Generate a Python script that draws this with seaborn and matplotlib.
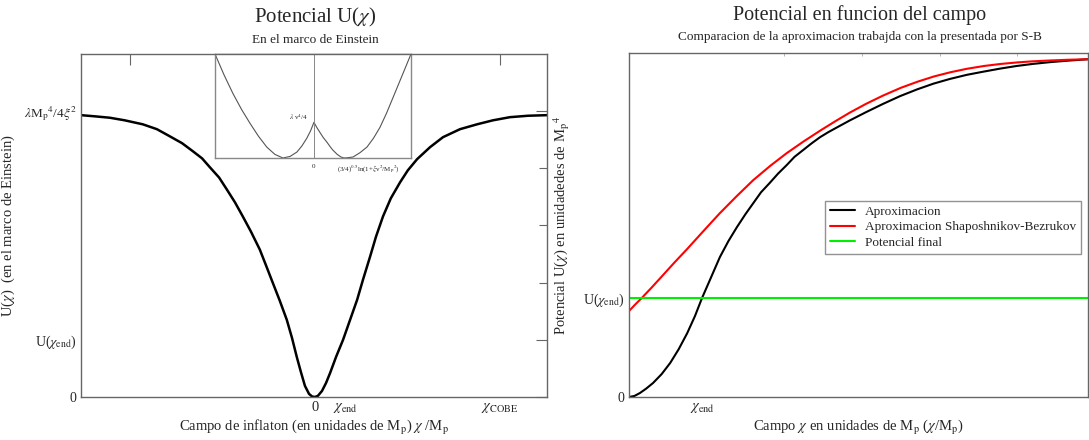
import matplotlib
matplotlib.use("Agg")
import matplotlib.pyplot as plt
import seaborn as sns
import pandas as pd

# ---------------- data ----------------
# Left panel: Einstein-frame potential, x in field units, y in units of lambda Mp^4/4xi^2
left_x = [-6.32, -5.95, -5.54, -5.14, -4.65, -4.27, -3.92, -3.59, -3.30, -3.05,
          -2.84, -2.59, -2.38, -2.16, -1.95, -1.73, -1.49, -1.32, -1.14, -0.95,
          -0.76, -0.62, -0.49, -0.38, -0.27, -0.16, -0.08, 0.0,
          0.08, 0.19, 0.30, 0.41, 0.57, 0.76, 0.95, 1.14, 1.30, 1.49, 1.65, 1.84,
          2.05, 2.30, 2.51, 2.76, 3.11, 3.46, 3.92, 4.38, 4.81, 5.27, 5.76, 6.27]
left_y = [0.986, 0.982, 0.977, 0.968, 0.954, 0.937, 0.912, 0.888, 0.860, 0.835,
          0.804, 0.768, 0.726, 0.681, 0.632, 0.579, 0.516, 0.460, 0.400, 0.337,
          0.270, 0.207, 0.140, 0.088, 0.039, 0.011, 0.002, 0.0,
          0.004, 0.021, 0.049, 0.084, 0.140, 0.200, 0.270, 0.340, 0.411, 0.491, 0.561, 0.632,
          0.695, 0.751, 0.793, 0.832, 0.874, 0.909, 0.937, 0.954, 0.968, 0.979, 0.984, 0.986]

# Inset: potential near the origin
inset_x = [-3.19, -2.9, -2.61, -2.33, -2.06, -1.79, -1.52, -1.26, -1.0, -0.77,
           -0.55, -0.39, -0.23, -0.11, 0.0, 0.1, 0.19, 0.3, 0.42, 0.52, 0.61,
           0.75, 0.87, 0.97, 1.1, 1.26, 1.48, 1.71, 1.92, 2.13, 2.34, 2.55, 2.84, 3.13]
inset_y = [1.0, 0.8, 0.619, 0.465, 0.333, 0.21, 0.105, 0.035, 0.0, 0.015,
           0.057, 0.115, 0.19, 0.26, 0.343, 0.29, 0.248, 0.197, 0.152, 0.11, 0.076,
           0.035, 0.01, 0.0, 0.003, 0.0095, 0.05, 0.105, 0.19, 0.295, 0.43, 0.581, 0.79, 1.0]

# Right panel
black_x = [0.0, 0.07, 0.14, 0.22, 0.31, 0.42, 0.53, 0.64, 0.75, 0.85, 0.94, 1.05,
           1.17, 1.28, 1.39, 1.50, 1.60, 1.70, 1.81, 1.92, 2.03, 2.13, 2.24, 2.35,
           2.46, 2.57, 2.68, 2.84, 3.05, 3.27, 3.49, 3.71, 3.92, 4.13, 4.35,
           4.56, 4.78, 4.99, 5.20, 5.42, 5.66, 5.91]
black_y = [0.0, 0.01, 0.038, 0.08, 0.135, 0.22, 0.327, 0.46, 0.615, 0.78, 0.952, 1.14,
           1.346, 1.50, 1.635, 1.76, 1.865, 1.97, 2.058, 2.15, 2.231, 2.31, 2.375, 2.44,
           2.500, 2.55, 2.595, 2.66, 2.74, 2.82, 2.895, 2.96, 3.015, 3.06, 3.10,
           3.13, 3.16, 3.185, 3.205, 3.222, 3.237, 3.250]
red_x = [0.0, 0.08, 0.167, 0.29, 0.41, 0.58, 0.75, 0.96, 1.17, 1.39, 1.60, 1.82,
         2.03, 2.25, 2.47, 2.66, 2.84, 3.05, 3.27, 3.50, 3.72, 3.93, 4.14, 4.35,
         4.57, 4.79, 5.01, 5.20, 5.42, 5.66, 5.91]
red_y = [0.827, 0.89, 0.955, 1.052, 1.15, 1.29, 1.425, 1.598, 1.769, 1.935, 2.087, 2.225,
         2.346, 2.46, 2.567, 2.655, 2.735, 2.82, 2.90, 2.975, 3.035, 3.085, 3.125, 3.158,
         3.185, 3.205, 3.22, 3.23, 3.238, 3.245, 3.250]
green_x = [0.0, 5.91]
green_y = [0.952, 0.952]

legend_labels = ["Aproximacion", "Aproximacion Shaposhnikov-Bezrukov", "Potencial final"]

# tick values
left_u_end = 0.2
left_x_end = 0.83
left_x_cobe = 5.0
right_x_end = 0.94
right_u_end = 0.952

# ---------------- style ----------------
sns.set_style("white")
plt.rcParams["font.family"] = ["Liberation Serif", "DejaVu Serif"]
plt.rcParams["mathtext.fontset"] = "stix"
plt.rcParams["axes.linewidth"] = 1.0
SPINE = "#666666"

W, H = 1089, 440
fig = plt.figure(figsize=(W / 100, H / 100), dpi=100)


def px_axes(x0, y0, x1, y1):
    return fig.add_axes([x0 / W, 1 - y1 / H, (x1 - x0) / W, (y1 - y0) / H])


# ---------------- left panel ----------------
axL = px_axes(81, 54, 547, 397)
sns.lineplot(x=left_x, y=left_y, ax=axL, color="black", lw=1.8, sort=False)
axL.set_xlim(-6.32, 6.27)
axL.set_ylim(0, 1.2)
axL.set_xticks([-left_x_cobe, -left_x_end, 0, left_x_end, left_x_cobe])
axL.set_xticklabels(["", "", "0", r"$\chi_{\rm end}$", r"$\chi_{\rm COBE}$"], fontsize=10.5)
axL.set_yticks([0, left_u_end, 1.0])
axL.set_yticklabels(["0", r"U($\chi_{\rm end}$)", r"$\lambda$M$_{\rm p}{}^4$/4$\xi^2$"], fontsize=10)
axL.get_yticklabels()[2].set_fontsize(9.5)
axL.set_yticks([0.4, 0.6, 0.8], minor=True)
axL.tick_params(axis="both", which="major", direction="in", length=8, width=0.8,
                color=SPINE, top=True, right=True, pad=3)
axL.tick_params(axis="y", which="minor", direction="in", length=6, width=0.8,
                color=SPINE, left=False, right=True)
axL.set_xlabel(r"Campo de inflaton (en unidades de M$_{\rm p}$) $\chi$ /M$_{\rm p}$",
               fontsize=10.5, labelpad=2)
axL.set_ylabel(r"U($\chi$)  (en el marco de Einstein)", fontsize=10.5)
axL.yaxis.set_label_coords((17 - 81) / 466, 0.5)
for s in axL.spines.values():
    s.set_color(SPINE)
fig.text(315 / W, 1 - 17 / H, r"Potencial U($\chi$)", ha="center", va="center", fontsize=15)
fig.text(315 / W, 1 - 40 / H, "En el marco de Einstein", ha="center", va="center", fontsize=9.5)

# inset
axI = px_axes(215, 54, 411, 158)
sns.lineplot(x=inset_x, y=inset_y, ax=axI, color="#555555", lw=0.8, sort=False)
axI.axvline(0, color="#888888", lw=0.7)
axI.set_xlim(-3.19, 3.13)
axI.set_ylim(0, 1.0)
axI.set_yticks([])
axI.set_xticks([-1, 1])
axI.set_xticklabels([])
axI.set_xticks([-3, -2, 2, 3], minor=True)
axI.tick_params(axis="x", which="major", direction="in", length=5, width=0.6, color="#666666")
axI.tick_params(axis="x", which="minor", direction="in", length=2.5, width=0.6, color="#888888")
for k, s in axI.spines.items():
    s.set_color("#888888")
    s.set_linewidth(1.0)
axI.spines["top"].set_color(SPINE)
axI.text(0, -0.06, "0", ha="center", va="top", fontsize=5)
axI.text(0.75, -0.05, r"(3/4)$^{0.5}$ln(1+$\xi$v$^2$/M$_{\rm p}{}^2$)", ha="left", va="top", fontsize=5)
axI.text(-0.2, 0.39, r"$\lambda$ v$^4$/4", ha="right", va="center", fontsize=5)

# ---------------- right panel ----------------
axR = px_axes(629, 53, 1088, 397)
df = pd.DataFrame({
    "x": black_x + red_x + green_x,
    "y": black_y + red_y + green_y,
    "serie": [legend_labels[0]] * len(black_x) + [legend_labels[1]] * len(red_x)
             + [legend_labels[2]] * len(green_x),
})
sns.lineplot(data=df, x="x", y="y", hue="serie", hue_order=legend_labels,
             palette=["black", "#ff0000", "#00ee00"], ax=axR, lw=1.5, sort=False)
axR.set_xlim(0, 5.91)
axR.set_ylim(0, 3.31)
axR.set_xticks([right_x_end])
axR.set_xticklabels([r"$\chi_{\rm end}$"], fontsize=10.5)
axR.set_xticks([2, 3, 4, 5], minor=True)
axR.set_yticks([0, right_u_end])
axR.set_yticklabels(["0", r"U($\chi_{\rm end}$)"], fontsize=10)
axR.set_yticks([2, 3], minor=True)
axR.tick_params(axis="both", which="major", direction="in", length=10, width=0.8,
                color=SPINE, top=False, right=False, pad=3)
axR.tick_params(axis="both", which="minor", direction="in", length=2, width=0.6,
                color="#aaaaaa", top=True, right=False)
axR.set_xlabel(r"Campo $\chi$ en unidades de M$_{\rm p}$ ($\chi$/M$_{\rm p}$)", fontsize=10.5, labelpad=2)
axR.set_ylabel(r"Potencial U($\chi$) en unidadedes de M$_{\rm p}{}^4$", fontsize=10.5)
axR.yaxis.set_label_coords((572 - 629) / 459, 0.5)
for s in axR.spines.values():
    s.set_color(SPINE)
leg = axR.legend(loc="upper left", bbox_to_anchor=(825 / W, 1 - 201 / H),
                 bbox_transform=fig.transFigure, frameon=True, fancybox=False,
                 fontsize=9.5, handlelength=1.9, handletextpad=0.8, borderpad=0.35,
                 labelspacing=0.25, borderaxespad=0)
leg.get_frame().set_edgecolor("#777777")
leg.get_frame().set_linewidth(1.0)
leg.set_title(None)
fig.text(860 / W, 1 - 15 / H, "Potencial en funcion del campo", ha="center", va="center", fontsize=14.5)
fig.text(860 / W, 1 - 37 / H, "Comparacion de la aproximacion trabajda con la presentada por S-B",
         ha="center", va="center", fontsize=9.5)

fig.savefig("out.png", dpi=100)
